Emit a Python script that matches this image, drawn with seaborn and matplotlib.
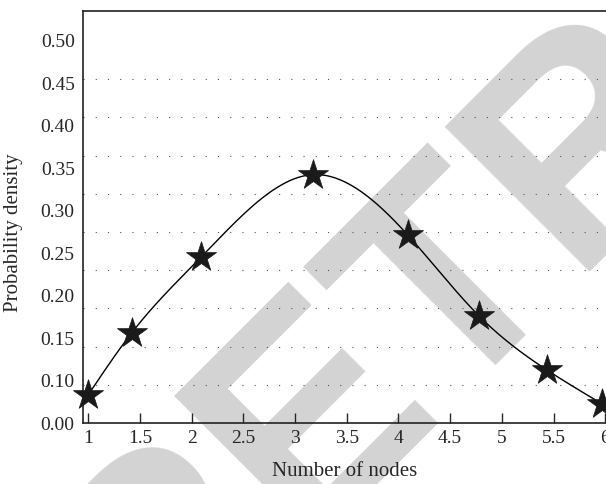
import numpy as np
import matplotlib
matplotlib.use("Agg")
import matplotlib.pyplot as plt
import seaborn as sns

# data (y in gridline units, axis bottom = 0)
nodes = [1.0, 1.42, 2.09, 3.17, 4.09, 4.78, 5.44, 5.97]
density = [0.037, 0.118, 0.217, 0.325, 0.246, 0.140, 0.069, 0.025]

x_ticks = [1, 1.5, 2, 2.5, 3, 3.5, 4, 4.5, 5, 5.5, 6]
x_labels = ["1", "1.5", "2", "2.5", "3", "3.5", "4", "4.5", "5", "5.5", "6"]
y_labels = ["0.00", "0.10", "0.15", "0.20", "0.25", "0.30", "0.35", "0.40", "0.45", "0.50"]
grid_levels = [0.05, 0.10, 0.15, 0.20, 0.25, 0.30, 0.35, 0.40, 0.45, 0.50]


def natural_spline(x, y, n=400):
    """Smooth curve through the points (natural cubic spline)."""
    x = np.asarray(x, float)
    y = np.asarray(y, float)
    k = len(x)
    h = np.diff(x)
    A = np.zeros((k, k))
    b = np.zeros(k)
    A[0, 0] = A[-1, -1] = 1
    for i in range(1, k - 1):
        A[i, i - 1] = h[i - 1]
        A[i, i] = 2 * (h[i - 1] + h[i])
        A[i, i + 1] = h[i]
        b[i] = 6 * ((y[i + 1] - y[i]) / h[i] - (y[i] - y[i - 1]) / h[i - 1])
    M = np.linalg.solve(A, b)
    xs = np.linspace(x[0], x[-1], n)
    idx = np.clip(np.searchsorted(x, xs) - 1, 0, k - 2)
    x0, x1 = x[idx], x[idx + 1]
    hh = x1 - x0
    t0, t1 = x1 - xs, xs - x0
    ys = (M[idx] * t0**3 + M[idx + 1] * t1**3) / (6 * hh) \
        + (y[idx] / hh - M[idx] * hh / 6) * t0 \
        + (y[idx + 1] / hh - M[idx + 1] * hh / 6) * t1
    return xs, ys


sns.set_style("ticks")
plt.rcParams["font.family"] = ["Liberation Serif", "DejaVu Serif"]

fig = plt.figure(figsize=(6.06, 4.84), dpi=100)
ax = fig.add_axes([0.137, 0.126, 0.863, 0.851])
ax.set_zorder(1)
ax.set_facecolor("none")

# grey watermark behind the plot
fig.text(0.244, -0.434, "RETRACTED", rotation=45, rotation_mode="anchor",
         ha="left", va="baseline", fontsize=215, fontweight="bold",
         family="Liberation Sans", color="#d3d3d3", zorder=0)

xs, ys = natural_spline(nodes, density)
sns.lineplot(x=xs, y=ys, ax=ax, color="black", linewidth=1.0, zorder=3)
sns.scatterplot(x=nodes, y=density, ax=ax, marker="*", s=520, color="#1a1a1a",
                edgecolor="#1a1a1a", linewidth=0.5, zorder=4, clip_on=False)

ax.set_xlim(0.949, 6.007)
ax.set_ylim(0, 0.539)
ax.set_xticks(x_ticks, x_labels)
ax.set_yticks(np.linspace(0, 0.5, len(y_labels)), y_labels)
ax.set_yticks(grid_levels, minor=True)
ax.grid(False)
ax.grid(which="minor", axis="y", color="#555555", linewidth=0.8,
        linestyle=(0, (1, 10)))
ax.tick_params(axis="x", direction="in", length=7, width=1, labelsize=14, pad=5)
ax.tick_params(axis="y", which="both", length=0, labelsize=14, pad=6)

for side in ["left", "top", "bottom"]:
    ax.spines[side].set_color("#222222")
    ax.spines[side].set_linewidth(1.2)
ax.spines["right"].set_visible(False)

ax.set_xlabel("Number of nodes", fontsize=15, labelpad=11)
ax.set_ylabel("Probability density", fontsize=15)
ax.yaxis.set_label_coords(-0.115, 0.461)

fig.savefig("out.png", dpi=100)
